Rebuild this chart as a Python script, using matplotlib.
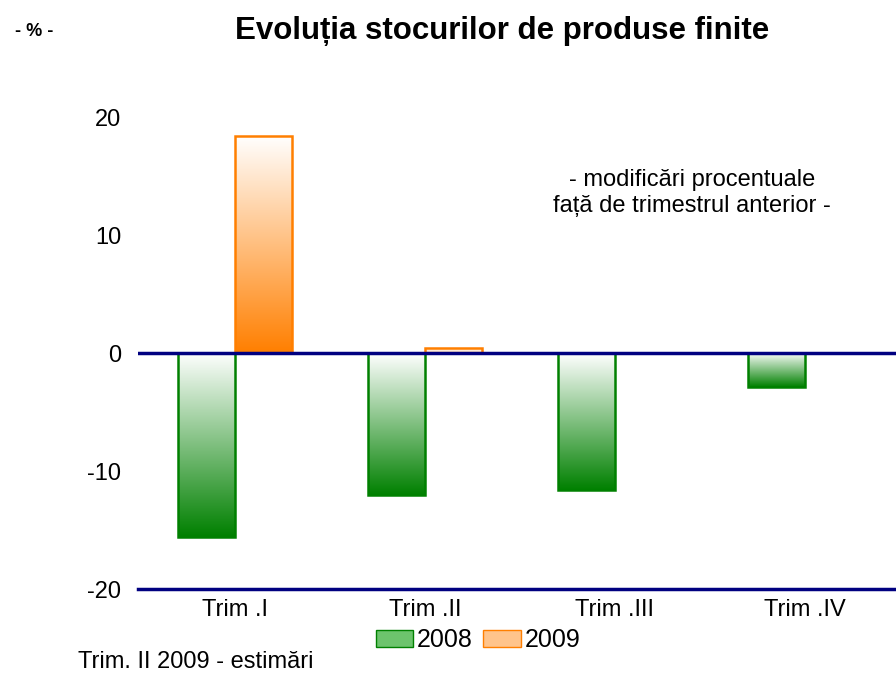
import matplotlib
matplotlib.use("Agg")
import matplotlib.pyplot as plt
import numpy as np
from matplotlib.colors import LinearSegmentedColormap
from matplotlib.patches import Patch

plt.rcParams["font.family"] = ["Liberation Sans", "DejaVu Sans"]
plt.rcParams["axes.unicode_minus"] = False

categories = ["Trim .I", "Trim .II", "Trim .III", "Trim .IV"]
s2008 = [-15.6, -12.0, -11.6, -2.9]
s2009 = [18.4, 0.4, np.nan, np.nan]
yticks = [-20, -10, 0, 10, 20]

green = "#008000"
orange = "#FF7F00"
navy = "#000080"

fig = plt.figure(figsize=(8.96, 6.75), dpi=100)
ax = fig.add_axes([138 / 896, 1 - 589 / 675, 1 - 138 / 896, (589 - 117) / 675])

x = np.arange(len(categories))
w = 0.3


def gradient_bars(bars, color):
    cmap = LinearSegmentedColormap.from_list("g", ["#FFFFFF", color])
    grad = np.linspace(0, 1, 256).reshape(-1, 1)
    for b in bars:
        h = b.get_height()
        if np.isnan(h) or h == 0:
            continue
        x0, y0 = b.get_x(), b.get_y()
        y_lo, y_hi = min(y0, y0 + h), max(y0, y0 + h)
        # small bars stay pale
        g = grad * (0.3 if abs(h) < 2 else 1.0)
        im = ax.imshow(g, cmap=cmap, vmin=0, vmax=1, aspect="auto",
                       extent=(x0, x0 + b.get_width(), y_lo, y_hi),
                       zorder=2, interpolation="bicubic")
        im.set_clip_path(b)


b1 = ax.bar(x - w / 2, s2008, w, facecolor="none", edgecolor=green, lw=1.8, zorder=3)
b2 = ax.bar(x + w / 2, s2009, w, facecolor="none", edgecolor=orange, lw=1.8, zorder=3)
gradient_bars(b1, green)
gradient_bars(b2, orange)

ax.axhline(0, color=navy, lw=2.5, zorder=4)
ax.set_xlim(-0.51, 3.48)
ax.set_ylim(-20, 20)
ax.set_yticks(yticks)
ax.set_xticks(x)
ax.set_xticklabels(categories, fontsize=17)
ax.tick_params(axis="y", length=0, pad=12, labelsize=17)
ax.tick_params(axis="x", length=0, pad=7)
for s in ["left", "right", "top"]:
    ax.spines[s].set_visible(False)
ax.spines["bottom"].set_color(navy)
ax.spines["bottom"].set_linewidth(2.5)
ax.set_zorder(1)

fig.text(502 / 896, 1 - 31 / 675, "Evoluția stocurilor de produse finite",
         ha="center", va="center", fontsize=22.5, fontweight="bold")
fig.text(34 / 896, 1 - 32 / 675, "- % -", ha="center", va="center",
         fontsize=13, fontweight="bold")
fig.text(692 / 896, 1 - 193 / 675,
         "- modificări procentuale\nfață de trimestrul anterior -",
         ha="center", va="center", fontsize=17, linespacing=1.2)
fig.text(78 / 896, 1 - 662 / 675, "Trim. II 2009 - estimări",
         ha="left", va="center", fontsize=17)

handles = [Patch(facecolor="#6CC46C", edgecolor=green, label="2008"),
           Patch(facecolor="#FFC48C", edgecolor=orange, label="2009")]
fig.legend(handles=handles, loc="center", bbox_to_anchor=(478 / 896, 1 - 640 / 675),
           ncol=2, frameon=False, fontsize=18, handlelength=1.5, handleheight=0.7,
           handletextpad=0.15, columnspacing=0.4, borderpad=0)

fig.savefig("out.png", dpi=100)
